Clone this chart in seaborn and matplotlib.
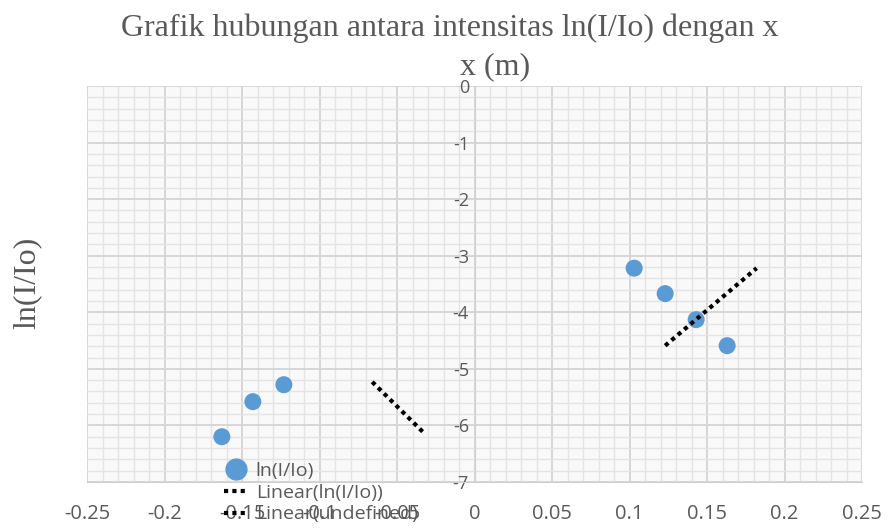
import matplotlib
matplotlib.use("Agg")
import matplotlib.pyplot as plt
import seaborn as sns
import pandas as pd
from matplotlib.ticker import MultipleLocator
from matplotlib.lines import Line2D

x_vals = [-0.163, -0.143, -0.123, 0.103, 0.123, 0.143, 0.163]
ln_vals = [-6.20, -5.58, -5.28, -3.22, -3.67, -4.13, -4.59]

trend1_x = [0.123, 0.182]
trend1_y = [-4.59, -3.22]
trend2_x = [-0.066, -0.032]
trend2_y = [-5.23, -6.15]

x_ticks = [-0.25, -0.2, -0.15, -0.1, -0.05, 0, 0.05, 0.1, 0.15, 0.2, 0.25]
x_tick_labels = ["-0.25", "-0.2", "-0.15", "-0.1", "-0.05", "0", "0.05", "0.1", "0.15", "0.2", "0.25"]
y_ticks = [0, -1, -2, -3, -4, -5, -6, -7]

sns.set_style("white")
plt.rcParams['font.family'] = ['Open Sans', 'DejaVu Sans']

fig = plt.figure(figsize=(8.88, 5.28), dpi=100)
ax = fig.add_axes([87/888, 46/528, 775/888, 396/528])
ax.set_facecolor("#f9f9f9")
fig.patch.set_facecolor("white")

df = pd.DataFrame({"x": x_vals, "y": ln_vals})
sns.scatterplot(data=df, x="x", y="y", ax=ax, s=150, color="#5b9bd5",
                edgecolor="none", zorder=4, legend=False)
t1 = pd.DataFrame({"x": trend1_x, "y": trend1_y})
t2 = pd.DataFrame({"x": trend2_x, "y": trend2_y})
sns.lineplot(data=t1, x="x", y="y", ax=ax, color="black", lw=3,
             linestyle=(0, (1, 1)), zorder=5, legend=False)
sns.lineplot(data=t2, x="x", y="y", ax=ax, color="black", lw=3,
             linestyle=(0, (1, 1)), zorder=5, legend=False)

ax.set_xlim(-0.25, 0.25)
ax.set_ylim(-7, 0)
ax.xaxis.set_minor_locator(MultipleLocator(0.01))
ax.yaxis.set_minor_locator(MultipleLocator(0.2))
ax.set_xticks(x_ticks)
ax.set_xticklabels(x_tick_labels)
ax.set_yticks(y_ticks)
ax.set_yticklabels([str(v) for v in y_ticks])
ax.grid(which="major", color="#d4d4d4", lw=1.3, zorder=0)
ax.grid(which="minor", color="#e4e4e4", lw=1.0, zorder=0)
ax.set_axisbelow(True)

for s in ["top", "right"]:
    ax.spines[s].set_visible(False)
ax.spines["left"].set_position(("data", 0))
ax.spines["left"].set_color("#d0d0d0")
ax.spines["bottom"].set_color("#d0d0d0")
ax.tick_params(axis="x", which="both", length=0, pad=16, labelsize=14.5, labelcolor="#595959")
ax.tick_params(axis="y", which="both", length=0, pad=4, labelsize=13, labelcolor="#595959")

ax.set_xlabel("")
ax.set_ylabel("")
fig.text(450/888, 1 - 28/528, "Grafik hubungan antara intensitas ln(I/Io) dengan x",
         family="Liberation Serif", fontsize=23, color="#595959", ha="center", va="center")
fig.text(495/888, 1 - 67/528, "x (m)", family="Liberation Serif", fontsize=23,
         color="#595959", ha="center", va="center")
fig.text(27/888, 1 - 283/528, "ln(I/Io)", family="Liberation Serif", fontsize=23,
         color="#595959", ha="center", va="center", rotation=90)

handles = [
    Line2D([], [], marker="o", linestyle="none", markersize=15, color="#5b9bd5"),
    Line2D([], [], color="black", lw=3, linestyle=(0, (1, 1))),
    Line2D([], [], color="black", lw=3, linestyle=(0, (1, 1))),
]
labels = ["ln(I/Io)", "Linear(ln(I/Io))", "Linear(undefined)"]
leg = fig.legend(handles, labels, loc="upper left", bbox_to_anchor=(214/888, 1 - 452/528),
                 frameon=False, fontsize=14, labelspacing=0.2, handlelength=1.3,
                 handletextpad=0.35, borderpad=0)
for t in leg.get_texts():
    t.set_color("#595959")

fig.savefig("out.png", dpi=100)
